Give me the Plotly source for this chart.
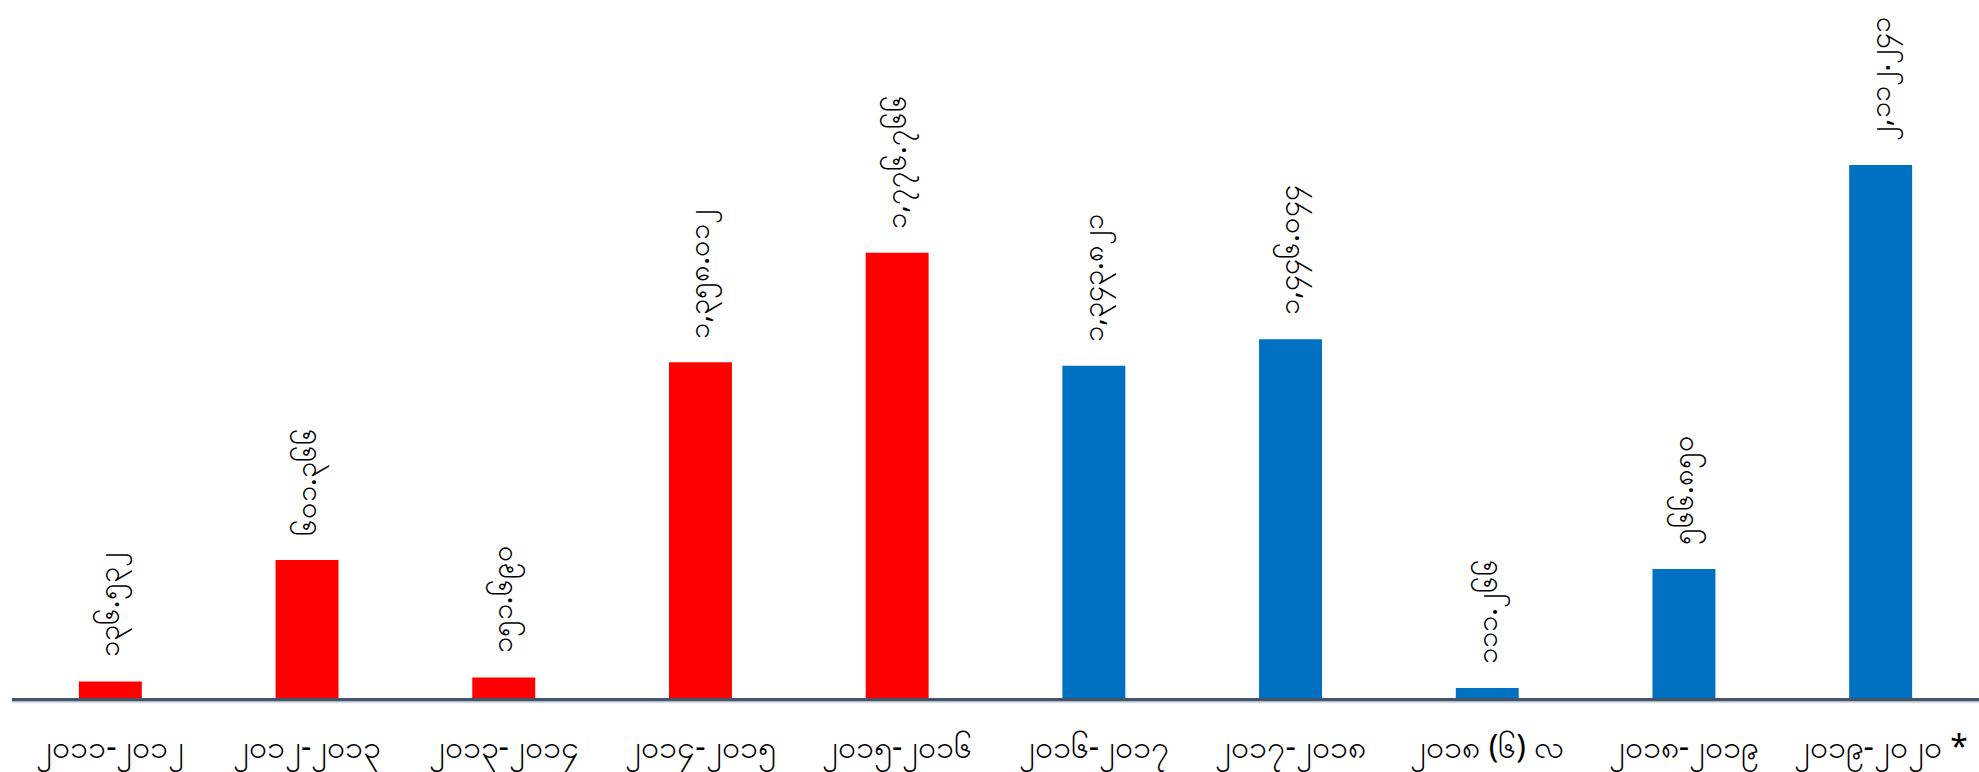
import plotly.graph_objects as go

# Fiscal-year categories (Myanmar digits)
categories = ["၂၀၁၁-၂၀၁၂", "၂၀၁၂-၂၀၁၃", "၂၀၁၃-၂၀၁၄", "၂၀၁၄-၂၀၁၅", "၂၀၁၅-၂၀၁၆",
              "၂၀၁၆-၂၀၁၇", "၂၀၁၇-၂၀၁၈", "၂၀၁၈ (၆) လ", "၂၀၁၈-၂၀၁၉", "၂၀၁၉-၂၀၂၀ *"]
values = [136.532, 601.366, 151.690, 1358.012, 1776.766,
          1343.821, 1446.044, 111.266, 566.850, 2112.241]
colors = ["#FF0000"] * 5 + ["#0070C0"] * 5

axis_min = 73.0
axis_max = 2743.6

MY_DIGITS = str.maketrans("0123456789", "၀၁၂၃၄၅၆၇၈၉")


def my_num(v):
    return f"{v:,.3f}".translate(MY_DIGITS)


labels = [my_num(v) for v in values]

fig = go.Figure()
fig.add_trace(go.Bar(
    x=categories, y=values, marker=dict(color=colors, line=dict(width=0)),
    hoverinfo="skip", cliponaxis=True,
))

for c, v, t in zip(categories, values, labels):
    fig.add_annotation(
        x=c, y=v, text=t, textangle=-90, showarrow=False,
        xanchor="center", yanchor="bottom", yshift=22,
        font=dict(size=29, color="#000000"),
    )

fig.add_shape(type="line", xref="paper", yref="paper", x0=0, x1=1, y0=-0.006, y1=-0.006,
              line=dict(color="#D6DCE5", width=2))

fig.update_layout(
    width=1979, height=772,
    margin=dict(l=12, r=0, t=0, b=74, autoexpand=False),
    paper_bgcolor="white", plot_bgcolor="white",
    bargap=0.68, showlegend=False,
    font=dict(family="Noto Sans, sans-serif", color="#000000"),
)
fig.update_xaxes(
    type="category", showline=True, linecolor="#44546A", linewidth=4,
    ticks="", showgrid=False, tickfont=dict(size=32, color="#000000"),
    ticklabelstandoff=18, automargin=False,
)
fig.update_yaxes(range=[axis_min, axis_max], visible=False, showgrid=False,
                 zeroline=False, automargin=False)

fig.write_html(
    "out.html",
    config={"displayModeBar": False, "staticPlot": True},
    post_script="document.body.style.margin='0';document.body.style.overflow='hidden';",
)
